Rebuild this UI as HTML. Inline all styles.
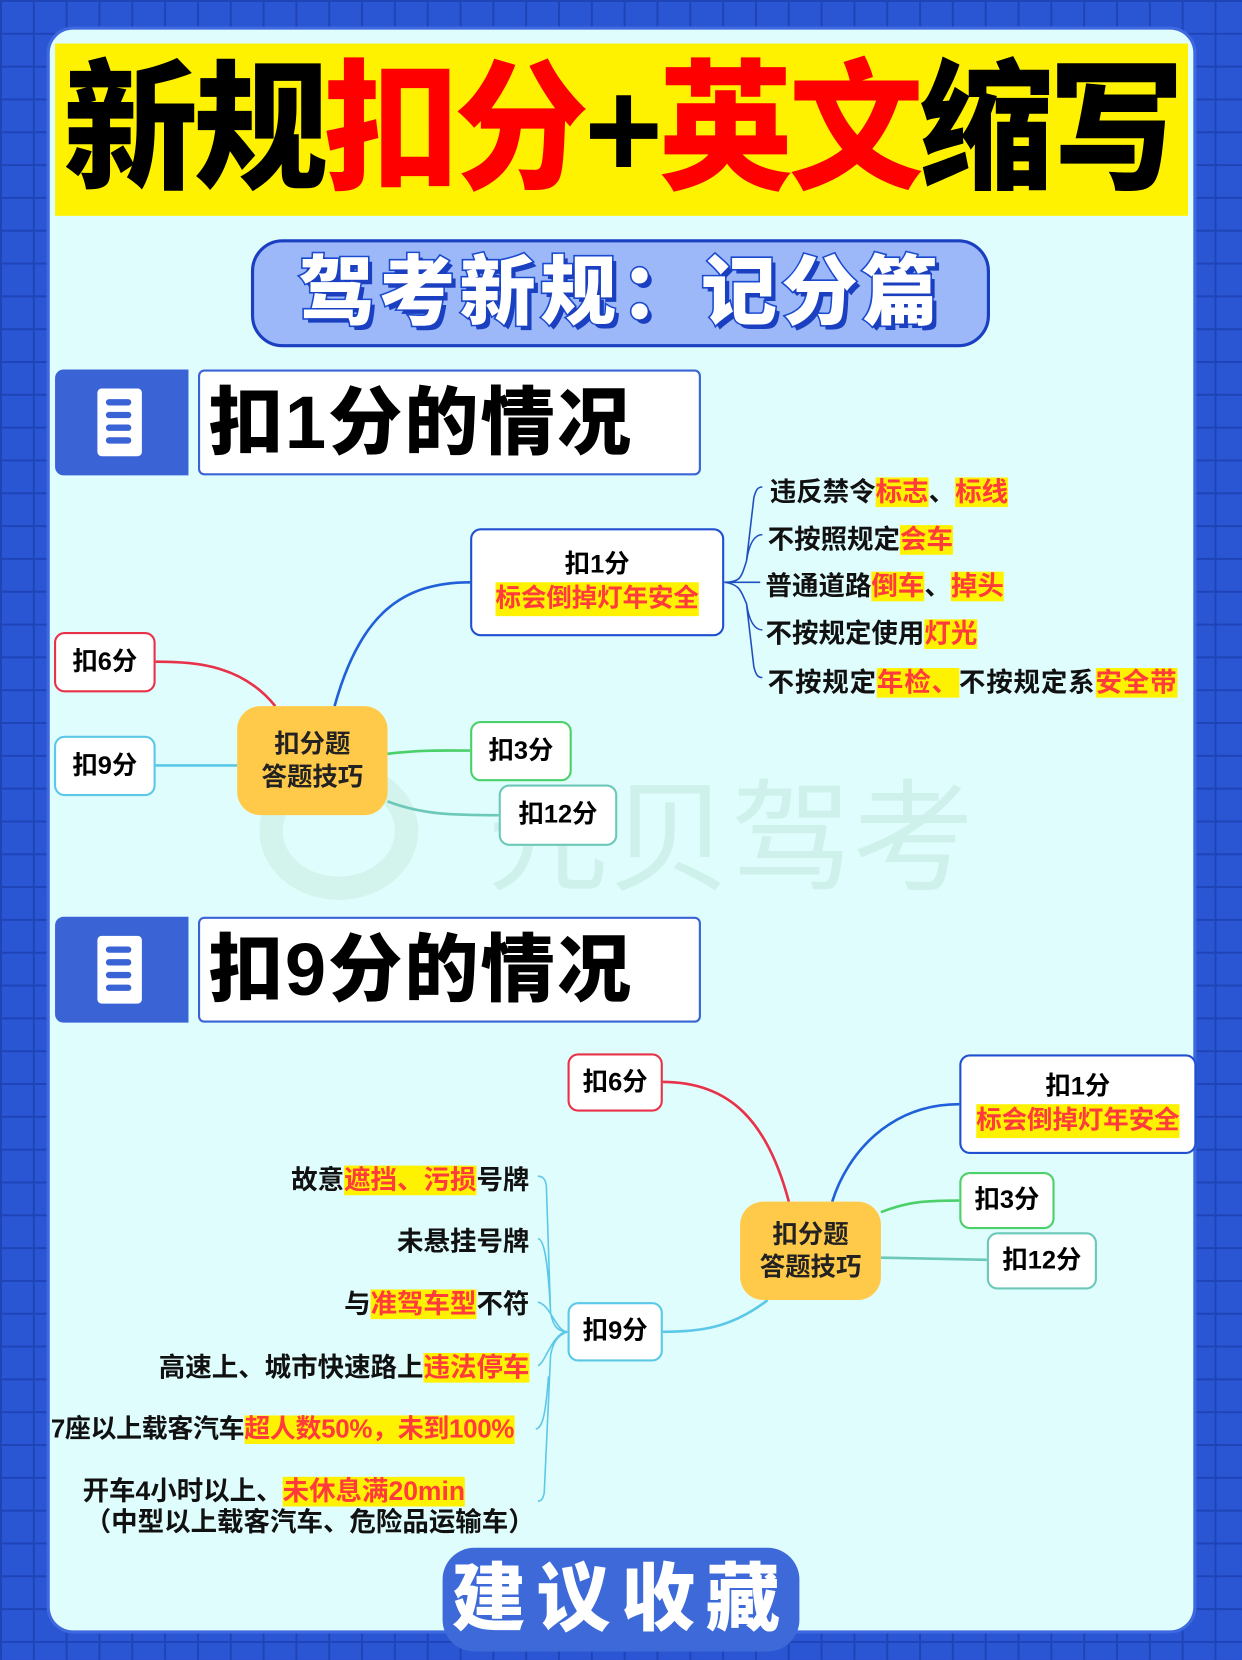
<!DOCTYPE html>
<html><head><meta charset="utf-8"><style>
*{margin:0;padding:0;box-sizing:border-box}
html,body{width:1242px;height:1660px;overflow:hidden;background:#2a55d0}
#w{position:absolute;left:0;top:0;width:1173px;height:1568px;transform:scale(1.05882,1.05867);transform-origin:0 0;
background:#2a55d3;
background-image:linear-gradient(#1f44b8 2px,transparent 2px),linear-gradient(90deg,#1f44b8 2px,transparent 2px);
background-size:31px 31px;font-family:"Liberation Sans","Noto Sans CJK SC",sans-serif}
.a{position:absolute}
.card{left:47px;top:28px;width:1080px;height:1512px;background:#e0fdfd;border-radius:22px;box-shadow:0 0 0 3px #3d68e0}
.ban{left:52px;top:45px;width:1070px;height:155px;background:#fff200;font-weight:900;font-size:127px;line-height:155px;text-align:center;letter-spacing:-4px;white-space:nowrap;color:#000;transform:scaleY(1.05);overflow:hidden}
.r{color:#f00}
.pill{left:237px;top:226px;width:698px;height:102px;background:#9db8f8;border:3px solid #1a3fc0;border-radius:30px;text-align:center;font-size:72px;font-weight:900;line-height:96px;color:#fff;-webkit-text-stroke:3px #1a4ad0;paint-order:stroke fill;letter-spacing:4px;text-shadow:4px 4px 0 #1a3fc0}
.ib{width:126px;height:100px;background:#3a63d6;border-radius:8px 0 0 8px}
.ic{position:absolute;left:40px;top:18px;width:42px;height:64px;background:#fff;border-radius:4px}
.ic i{position:absolute;left:8px;width:24px;height:6px;background:#3a63d6;border-radius:3px}
.hb{width:475px;height:100px;background:#fff;border:2px solid #3a63d6;border-radius:6px;font-size:70px;font-weight:900;line-height:96px;padding-left:8px;letter-spacing:2px}
.n{background:#fff;border:2px solid;border-radius:10px;font-size:24px;font-weight:700;text-align:center;display:flex;align-items:center;justify-content:center;flex-direction:column;line-height:32px}
.ctr{background:#ffc94a;border-radius:22px;font-size:24px;font-weight:700;text-align:center;display:flex;align-items:center;justify-content:center;flex-direction:column;line-height:31px;color:#222}
.h{color:#ff3b3b;background:#fff200}
.t{font-size:25px;font-weight:700;white-space:nowrap;color:#111}
.btn{left:418px;top:1462px;width:337px;height:98px;background:#3d6ad8;border-radius:30px;color:#fff;font-size:70px;font-weight:900;text-align:center;line-height:96px;letter-spacing:10px}
</style></head><body><div id="w">
<div class="a card"></div>
<div class="a ban">新规<span class="r">扣分</span>+<span class="r">英文</span>缩写</div>
<div class="a pill">驾考新规：记分篇</div>

<div class="a ib" style="left:52px;top:349px"><div class="ic"><i style="top:10px"></i><i style="top:22px"></i><i style="top:34px"></i><i style="top:46px"></i></div></div>
<div class="a hb" style="left:187px;top:349px">扣1分的情况</div>
<div class="a ib" style="left:52px;top:866px"><div class="ic"><i style="top:10px"></i><i style="top:22px"></i><i style="top:34px"></i><i style="top:46px"></i></div></div>
<div class="a hb" style="left:187px;top:866px">扣9分的情况</div>

<div class="a" style="left:245px;top:720px;width:150px;height:130px;border-radius:50%;border:22px solid #cdeee6;opacity:.7"></div>
<div class="a" style="left:460px;top:700px;font-size:115px;color:#c9ece6;font-weight:400;opacity:.7;white-space:nowrap">元贝驾考</div>

<svg class="a" style="left:0;top:0" width="1173" height="1568" fill="none" stroke-width="2.5">
<path d="M316 667 C340 580 380 550 444 550" stroke="#2060d8"/>
<path d="M260 667 C230 630 190 625 147 625" stroke="#e8324a"/>
<path d="M147 723 L224 723" stroke="#5cc8e8"/>
<path d="M366 712 C400 708 420 709 444 709" stroke="#4cd06a"/>
<path d="M366 757 C400 770 430 770 471 770" stroke="#6cc8b8"/>
<path d="M684 550 C700 550 700 545 705 530 L712 470 C714 462 716 460 720 460 M705 530 C708 510 714 505 720 505 M684 550 L718 550 M684 550 C700 552 700 560 705 570 C708 590 714 595 720 595 M705 570 L712 630 C714 638 716 640 720 640" stroke="#2050c0" stroke-width="1.5"/>
<path d="M745 1135 C725 1060 690 1022 626 1022" stroke="#e8324a"/>
<path d="M786 1135 C800 1090 840 1043 906 1043" stroke="#2060d8"/>
<path d="M832 1145 C860 1134 880 1134 906 1134" stroke="#4cd06a"/>
<path d="M832 1188 L932 1190" stroke="#6cc8b8"/>
<path d="M725 1228 C690 1255 660 1258 626 1258" stroke="#5cc8e8"/>
<path d="M536 1258 C525 1258 522 1250 520 1240 L516 1120 C515 1113 512 1111 508 1111 M520 1240 C518 1200 515 1170 508 1170 M536 1258 C525 1258 520 1232 508 1230 M536 1258 C522 1258 515 1288 508 1290 M536 1258 C525 1262 522 1270 520 1280 L514 1410 C513 1416 511 1418 508 1418 M518 1300 C515 1340 512 1348 506 1350" stroke="#5cc8e8" stroke-width="1.5"/>
</svg>

<div class="a n" style="left:444px;top:499px;width:240px;height:102px;border-color:#2050d0"><div>扣1分</div><div class="h">标会倒掉灯年安全</div></div>
<div class="a n" style="left:51px;top:597px;width:96px;height:57px;border-color:#e8324a">扣6分</div>
<div class="a n" style="left:51px;top:695px;width:96px;height:57px;border-color:#5cc8e8">扣9分</div>
<div class="a ctr" style="left:224px;top:667px;width:142px;height:103px"><div>扣分题</div><div>答题技巧</div></div>
<div class="a n" style="left:444px;top:681px;width:96px;height:57px;border-color:#4cd06a">扣3分</div>
<div class="a n" style="left:471px;top:741px;width:112px;height:58px;border-color:#6cc8b8">扣12分</div>

<div class="a t" style="left:727px;top:445px">违反禁令<span class="h">标志</span>、<span class="h">标线</span></div>
<div class="a t" style="left:725px;top:490px">不按照规定<span class="h">会车</span></div>
<div class="a t" style="left:723px;top:534px">普通道路<span class="h">倒车</span>、<span class="h">掉头</span></div>
<div class="a t" style="left:723px;top:579px">不按规定使用<span class="h">灯光</span></div>
<div class="a t" style="left:725px;top:625px;letter-spacing:0.8px">不按规定<span class="h">年检、</span>不按规定系<span class="h">安全带</span></div>

<div class="a n" style="left:536px;top:995px;width:90px;height:55px;border-color:#e8324a">扣6分</div>
<div class="a n" style="left:906px;top:996px;width:224px;height:94px;border-color:#2050d0"><div>扣1分</div><div class="h">标会倒掉灯年安全</div></div>
<div class="a n" style="left:906px;top:1107px;width:90px;height:54px;border-color:#4cd06a">扣3分</div>
<div class="a n" style="left:932px;top:1164px;width:104px;height:54px;border-color:#6cc8b8">扣12分</div>
<div class="a ctr" style="left:699px;top:1135px;width:133px;height:93px"><div>扣分题</div><div>答题技巧</div></div>
<div class="a n" style="left:536px;top:1230px;width:90px;height:56px;border-color:#5cc8e8">扣9分</div>

<div class="a t" style="right:673px;top:1095px">故意<span class="h">遮挡、污损</span>号牌</div>
<div class="a t" style="right:673px;top:1153px">未悬挂号牌</div>
<div class="a t" style="right:673px;top:1212px">与<span class="h">准驾车型</span>不符</div>
<div class="a t" style="right:673px;top:1272px">高速上、城市快速路上<span class="h">违法停车</span></div>
<div class="a t" style="left:48px;top:1331px;font-size:24.5px;letter-spacing:-0.3px">7座以上载客汽车<span class="h">超人数50%，未到100%</span></div>
<div class="a t" style="left:78px;top:1389px">开车4小时以上、<span class="h">未休息满20min</span></div>
<div class="a t" style="left:80px;top:1418px">（中型以上载客汽车、危险品运输车）</div>

<div class="a btn">建议收藏</div>
</div></body></html>
